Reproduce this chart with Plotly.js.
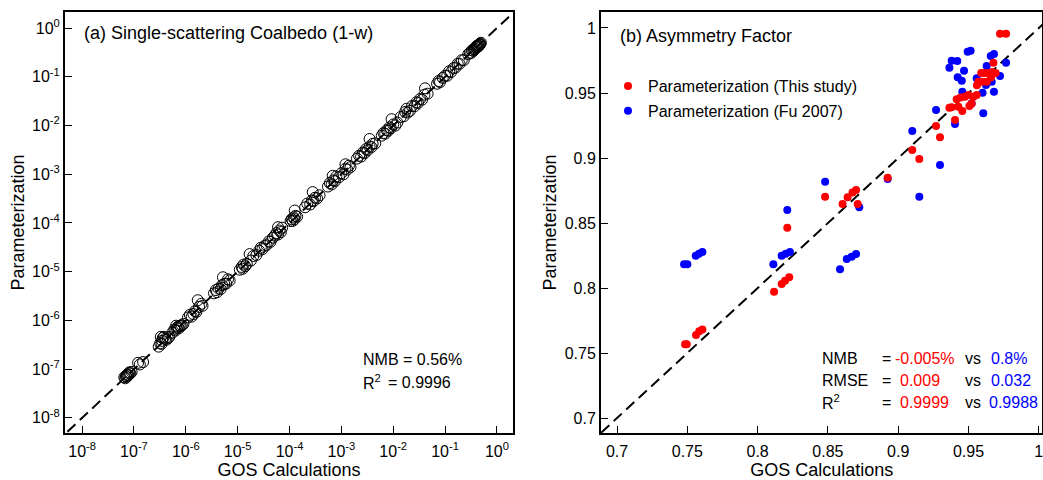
<!DOCTYPE html>
<html>
<head>
<meta charset="utf-8">
<script src="https://cdn.plot.ly/plotly-3.0.1.min.js"></script>
<style>html,body{margin:0;padding:0;background:#fff;}#chart{width:1043px;height:480px;}</style>
</head>
<body>
<div id="chart"></div>
<script>
// ---------- Panel (a): single-scattering coalbedo (1-w) ----------
const gosCoalbedo = [
  6.5e-8, 7.0e-8, 7.2e-8, 7.5e-8, 7.8e-8, 8.0e-8, 8.5e-8, 6.8e-8, 7.3e-8, 9.0e-8, 8.2e-8, 1.2e-7, 1.5e-7, 1.3e-7,
  3.0e-7, 3.2e-7, 3.4e-7, 3.5e-7, 3.6e-7, 3.8e-7, 4.0e-7, 4.2e-7, 4.5e-7, 3.3e-7, 4.8e-7,
  5.5e-7, 6.0e-7, 6.3e-7, 6.7e-7, 7.0e-7, 7.3e-7, 7.6e-7, 8.0e-7, 8.4e-7, 6.5e-7, 9.0e-7,
  1.1e-6, 1.2e-6, 1.3e-6, 1.4e-6, 1.5e-6, 1.6e-6, 1.8e-6, 2.0e-6, 1.7e-6, 2.1e-6,
  3.5e-6, 3.8e-6, 4.0e-6, 4.3e-6, 4.7e-6, 5.0e-6, 5.5e-6, 6.0e-6, 6.5e-6, 5.2e-6, 7.0e-6,
  1.1e-5, 1.2e-5, 1.25e-5, 1.3e-5, 1.4e-5, 1.5e-5,
  1.7e-5, 1.8e-5, 2.0e-5, 2.3e-5, 2.6e-5, 2.8e-5, 3.0e-5, 3.3e-5, 3.6e-5, 4.0e-5, 4.3e-5, 4.8e-5,
  5.2e-5, 5.6e-5, 6.0e-5, 6.4e-5, 6.8e-5, 7.2e-5, 6.0e-5,
  1.05e-4, 1.1e-4, 1.15e-4, 1.2e-4, 1.25e-4, 1.3e-4, 1.4e-4, 1.26e-4,
  2.0e-4, 2.2e-4, 2.5e-4, 2.7e-4, 2.9e-4, 3.1e-4, 3.4e-4, 2.8e-4, 3.8e-4,
  5.5e-4, 6.0e-4, 6.5e-4, 7.0e-4, 7.5e-4, 8.0e-4, 6.8e-4, 9.0e-4, 1.0e-3, 1.1e-3, 1.2e-3, 1.3e-3, 1.4e-3, 1.2e-3, 1.5e-3,
  2.0e-3, 2.2e-3, 2.4e-3, 2.6e-3, 2.8e-3, 3.0e-3, 3.2e-3, 3.5e-3, 3.8e-3, 4.0e-3, 3.5e-3, 4.5e-3,
  6.0e-3, 6.5e-3, 7.0e-3, 7.5e-3, 8.0e-3, 8.5e-3, 9.0e-3, 1.0e-2, 1.1e-2, 9.3e-3, 1.2e-2,
  1.4e-2, 1.6e-2, 1.7e-2, 1.9e-2, 1.8e-2, 2.1e-2, 2.3e-2, 2.6e-2, 2.8e-2, 3.0e-2, 3.3e-2, 3.6e-2, 4.0e-2, 4.1e-2, 4.6e-2,
  7.0e-2, 7.5e-2, 8.0e-2, 9.0e-2, 1.0e-1, 1.1e-1, 1.2e-1, 1.3e-1, 1.45e-1, 1.6e-1, 1.75e-1, 1.9e-1, 2.1e-1, 2.3e-1,
  0.28, 0.30, 0.32, 0.33, 0.35, 0.36, 0.38, 0.40, 0.42, 0.43, 0.45, 0.46, 0.47, 0.48, 0.49, 0.37, 0.39, 0.41, 0.44
];
const parCoalbedo = [
  6.8e-8, 7.2e-8, 6.9e-8, 7.8e-8, 7.5e-8, 8.3e-8, 8.2e-8, 6.5e-8, 7.6e-8, 8.8e-8, 8.6e-8, 1.35e-7, 1.4e-7, 1.25e-7,
  2.9e-7, 3.4e-7, 3.3e-7, 3.8e-7, 4.4e-7, 4.6e-7, 4.2e-7, 4.0e-7, 4.3e-7, 4.6e-7, 4.6e-7,
  5.6e-7, 6.5e-7, 6.2e-7, 7.0e-7, 7.4e-7, 6.9e-7, 7.8e-7, 7.6e-7, 8.0e-7, 7.8e-7, 8.5e-7,
  1.15e-6, 1.3e-6, 1.2e-6, 1.35e-6, 1.55e-6, 1.5e-6, 1.9e-6, 2.2e-6, 2.6e-6, 2.0e-6,
  3.6e-6, 4.2e-6, 3.8e-6, 4.5e-6, 4.4e-6, 5.3e-6, 5.6e-6, 5.7e-6, 7.0e-6, 7.7e-6, 6.6e-6,
  1.1e-5, 1.25e-5, 1.15e-5, 1.4e-5, 1.3e-5, 1.45e-5,
  2.3e-5, 1.7e-5, 2.1e-5, 2.2e-5, 2.7e-5, 3.1e-5, 2.9e-5, 3.4e-5, 3.5e-5, 4.2e-5, 4.1e-5, 5.0e-5,
  5.5e-5, 6.2e-5, 5.8e-5, 7.0e-5, 6.5e-5, 8.0e-5, 8.2e-5,
  1.1e-4, 1.2e-4, 1.1e-4, 1.3e-4, 1.2e-4, 1.4e-4, 1.35e-4, 1.8e-4,
  2.1e-4, 2.5e-4, 2.4e-4, 2.9e-4, 2.8e-4, 3.3e-4, 3.2e-4, 4.3e-4, 3.7e-4,
  5.6e-4, 6.6e-4, 6.2e-4, 7.5e-4, 7.2e-4, 9.0e-4, 9.3e-4, 8.7e-4, 1.05e-3, 1.0e-3, 1.3e-3, 1.25e-3, 1.5e-3, 1.6e-3, 1.4e-3,
  2.1e-3, 2.4e-3, 2.3e-3, 2.8e-3, 2.7e-3, 3.3e-3, 3.1e-3, 3.7e-3, 3.6e-3, 4.2e-3, 5.3e-3, 4.3e-3,
  6.2e-3, 7.0e-3, 6.8e-3, 8.0e-3, 7.8e-3, 9.2e-3, 8.8e-3, 1.05e-2, 1.0e-2, 1.35e-2, 1.15e-2,
  1.5e-2, 1.55e-2, 1.9e-2, 1.85e-2, 2.2e-2, 2.0e-2, 2.5e-2, 2.5e-2, 3.0e-2, 2.9e-2, 3.5e-2, 3.4e-2, 4.3e-2, 5.8e-2, 4.5e-2,
  7.2e-2, 8.2e-2, 7.8e-2, 9.5e-2, 1.05e-1, 1.05e-1, 1.3e-1, 1.25e-1, 1.5e-1, 1.55e-1, 1.85e-1, 1.85e-1, 2.2e-1, 2.2e-1,
  0.29, 0.31, 0.31, 0.35, 0.34, 0.37, 0.38, 0.41, 0.41, 0.44, 0.45, 0.47, 0.46, 0.48, 0.50, 0.36, 0.40, 0.43, 0.42
];
const logTickVals = [1e-8, 1e-7, 1e-6, 1e-5, 1e-4, 1e-3, 1e-2, 1e-1, 1];
const logTickText = ["10<sup>-8</sup>", "10<sup>-7</sup>", "10<sup>-6</sup>", "10<sup>-5</sup>", "10<sup>-4</sup>",
                     "10<sup>-3</sup>", "10<sup>-2</sup>", "10<sup>-1</sup>", "10<sup>0</sup>"];
const oneToOneLog = [1e-9, 10];

// ---------- Panel (b): asymmetry factor ----------
const gosThisStudy = [
  0.7484, 0.7496, 0.7562, 0.7585, 0.7607, 0.8117, 0.8171, 0.8195, 0.8225, 0.8211,
  0.8480, 0.8604, 0.8640, 0.8675, 0.8700, 0.8712, 0.8925, 0.9100, 0.9150, 0.9269,
  0.9297, 0.9404, 0.9364, 0.9380, 0.9428, 0.9456, 0.9506, 0.9522, 0.9416, 0.9444,
  0.9475, 0.9500, 0.9535, 0.9558, 0.9570, 0.9600, 0.9630, 0.9560, 0.9612, 0.9640,
  0.9669, 0.9693, 0.9660, 0.9677, 0.9724, 0.9767, 0.9590
];
const parThisStudy = [
  0.7567, 0.7567, 0.7638, 0.7667, 0.7682, 0.7972, 0.8031, 0.8056, 0.8082, 0.8464,
  0.8703, 0.8646, 0.8698, 0.8734, 0.8754, 0.8646, 0.8848, 0.9062, 0.8992, 0.9246,
  0.9159, 0.9292, 0.9387, 0.9390, 0.9395, 0.9362, 0.9400, 0.9418, 0.9451, 0.9465,
  0.9472, 0.9485, 0.9472, 0.9485, 0.9587, 0.9587, 0.9587, 0.9560, 0.9654, 0.9654,
  0.9662, 0.9654, 0.9620, 0.9733, 0.9956, 0.9956, 0.9654
];
const gosFu2007 = [
  0.7477, 0.7500, 0.7560, 0.7583, 0.7607, 0.8112, 0.8171, 0.8200, 0.8230, 0.8586,
  0.8634, 0.8669, 0.8700, 0.8211, 0.8480, 0.8723, 0.8925, 0.9100, 0.9150, 0.9297,
  0.9269, 0.9404, 0.9364, 0.9380, 0.9420, 0.9423, 0.9452, 0.9468, 0.9456, 0.9494,
  0.9515, 0.9522, 0.9558, 0.9600, 0.9605, 0.9624, 0.9629, 0.9658, 0.9681, 0.9665,
  0.9681, 0.9724, 0.9767
];
const parFu2007 = [
  0.8182, 0.8182, 0.8248, 0.8264, 0.8277, 0.8182, 0.8248, 0.8264, 0.8277, 0.8144,
  0.8223, 0.8241, 0.8262, 0.8600, 0.8818, 0.8621, 0.8838, 0.9208, 0.8703, 0.8946,
  0.9369, 0.9262, 0.9695, 0.9749, 0.9746, 0.9621, 0.9595, 0.9672, 0.9510, 0.9818,
  0.9825, 0.9421, 0.9613, 0.9502, 0.9344, 0.9562, 0.9708, 0.9785, 0.9800, 0.9587,
  0.9510, 0.9631, 0.9733
];
const linTickVals = [0.7, 0.75, 0.8, 0.85, 0.9, 0.95, 1];
const linTickText = ["0.7", "0.75", "0.8", "0.85", "0.9", "0.95", "1"];
const oneToOneLin = [0.6, 1.1];

const FONT = "Liberation Sans, Arial, sans-serif";
const W = 1043, H = 480;
const px = v => v / W;
const py = v => 1 - v / H;

const dashLine = {color: "black", width: 2, dash: "11px,6px"};

const traces = [
  {x: oneToOneLog, y: oneToOneLog, xaxis: "x", yaxis: "y", mode: "lines", line: dashLine,
   showlegend: false, hoverinfo: "skip"},
  {x: gosCoalbedo, y: parCoalbedo, xaxis: "x", yaxis: "y", mode: "markers", showlegend: false,
   marker: {symbol: "circle-open", size: 11, color: "black", line: {width: 1, color: "black"}}},
  {x: oneToOneLin, y: oneToOneLin, xaxis: "x2", yaxis: "y2", mode: "lines", line: dashLine,
   showlegend: false, hoverinfo: "skip"},
  {x: gosFu2007, y: parFu2007, xaxis: "x2", yaxis: "y2", mode: "markers",
   name: "Parameterization (Fu 2007)", legendgroup: "b", legendrank: 2,
   marker: {color: "#0000ff", size: 8}},
  {x: gosThisStudy, y: parThisStudy, xaxis: "x2", yaxis: "y2", mode: "markers",
   name: "Parameterization (This study)", legendgroup: "a", legendrank: 1,
   marker: {color: "#ff0000", size: 8}}
];

const axisCommon = {
  showline: true, linewidth: 2, linecolor: "black", mirror: true,
  ticks: "inside", ticklen: 7, tickwidth: 1, tickcolor: "black",
  showgrid: false, zeroline: false, automargin: false,
  ticklabeloverflow: "allow",
  tickfont: {family: FONT, size: 16, color: "black"}
};

const yDomain = [1 - 433 / H, 1 - 12 / H];

const ann = (text, x, y, color, xanchor) => ({
  text: text, xref: "paper", yref: "paper", x: px(x), y: py(y),
  xanchor: xanchor || "left", yanchor: "middle", showarrow: false,
  font: {family: FONT, size: 16, color: color || "black"}
});

const layout = {
  width: W, height: H,
  margin: {l: 0, r: 0, t: 0, b: 0},
  paper_bgcolor: "white", plot_bgcolor: "white",
  font: {family: FONT, color: "black"},
  xaxis: Object.assign({}, axisCommon, {
    domain: [px(65), px(513)], anchor: "y", type: "log", range: [-8.33, 0.31],
    tickmode: "array", tickvals: logTickVals, ticktext: logTickText, ticklabelstandoff: 3,
    title: {text: "GOS Calculations", font: {family: FONT, size: 18, color: "black"}, standoff: 7}
  }),
  yaxis: Object.assign({}, axisCommon, {
    domain: yDomain, anchor: "x", type: "log", range: [-8.31, 0.33],
    tickmode: "array", tickvals: logTickVals, ticktext: logTickText,
    title: {text: "Parameterization", font: {family: FONT, size: 18, color: "black"}, standoff: 3}
  }),
  xaxis2: Object.assign({}, axisCommon, {
    domain: [px(601), 0.9995], anchor: "y2", range: [0.6886, 1.0026],
    tickmode: "array", tickvals: linTickVals, ticktext: linTickText, ticklabelstandoff: 3,
    title: {text: "GOS Calculations", font: {family: FONT, size: 18, color: "black"}, standoff: 7}
  }),
  yaxis2: Object.assign({}, axisCommon, {
    domain: yDomain, anchor: "x2", range: [0.6885, 1.0123],
    tickmode: "array", tickvals: linTickVals, ticktext: linTickText,
    title: {text: "Parameterization", font: {family: FONT, size: 18, color: "black"}, standoff: 3}
  }),
  showlegend: true,
  legend: {
    x: px(608), y: py(69), xanchor: "left", yanchor: "top",
    bgcolor: "rgba(0,0,0,0)", borderwidth: 0,
    traceorder: "grouped", tracegroupgap: 1,
    font: {family: FONT, size: 16, color: "black"}
  },
  annotations: [
    Object.assign(ann("(a) Single-scattering Coalbedo (1-w)", 82, 33), {font: {family: FONT, size: 18, color: "black"}}),
    Object.assign(ann("(b) Asymmetry Factor", 618, 36), {font: {family: FONT, size: 18, color: "black"}}),
    ann("NMB = 0.56%", 361, 359),
    ann("R<sup>2</sup>", 361, 382), ann("= 0.9996", 386, 382),
    ann("NMB", 820, 358), ann("RMSE", 820, 380), ann("R<sup>2</sup>", 820, 402),
    ann("=", 880, 358), ann("=", 880, 380), ann("=", 880, 402),
    ann("-0.005%", 893, 358, "#ff0000"), ann("0.009", 898, 380, "#ff0000"), ann("0.9999", 898, 402, "#ff0000"),
    ann("vs", 963, 358), ann("vs", 963, 380), ann("vs", 963, 402),
    ann("0.8%", 989, 358, "#0000ff"), ann("0.032", 989, 380, "#0000ff"), ann("0.9988", 987, 402, "#0000ff")
  ]
};

Plotly.newPlot("chart", traces, layout, {staticPlot: true, displayModeBar: false});
</script>
</body>
</html>
